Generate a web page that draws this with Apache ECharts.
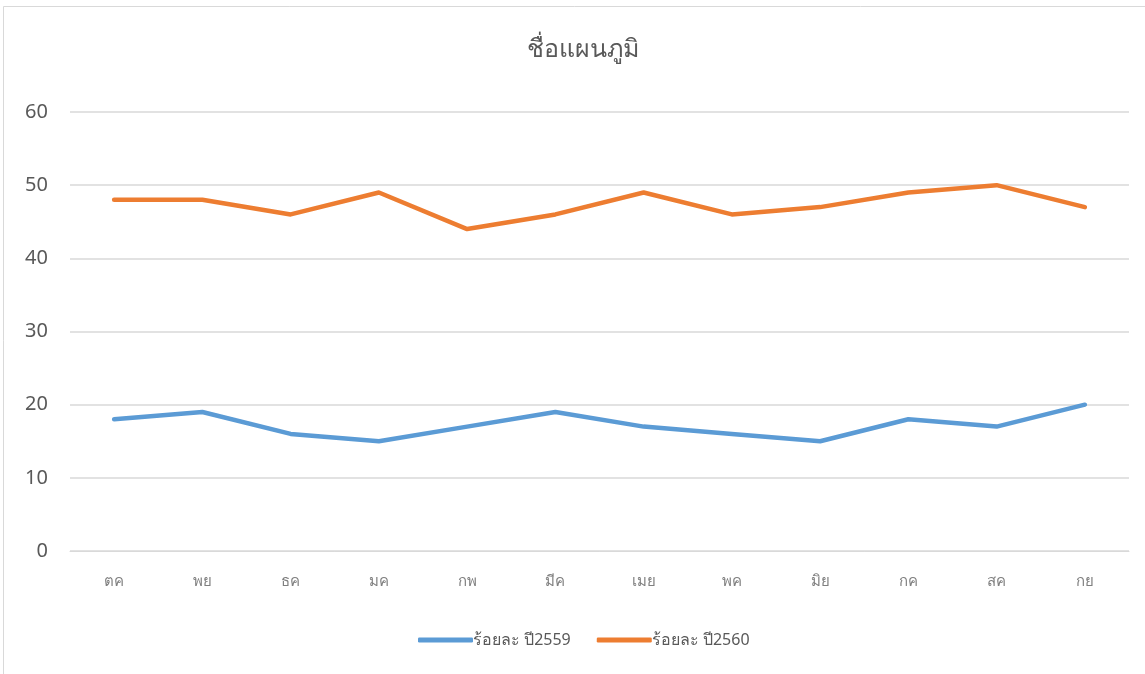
<!DOCTYPE html>
<html>
<head>
<meta charset="utf-8">
<script src="https://cdn.jsdelivr.net/npm/echarts@6/dist/echarts.min.js"></script>
<style>
html,body{margin:0;padding:0;background:#fff;}
#c{width:1145px;height:674px;}
</style>
</head>
<body>
<div id="c"></div>
<script>
const categories = ['ตค','พย','ธค','มค','กพ','มีค','เมย','พค','มิย','กค','สค','กย'];
const series2559 = [18,19,16,15,17,19,17,16,15,18,17,20];
const series2560 = [48,48,46,49,44,46,49,46,47,49,50,47];
const yTicks = [0,10,20,30,40,50,60];
const seriesNames = ['ร้อยละ ปี2559','ร้อยละ ปี2560'];

const chart = echarts.init(document.getElementById('c'), null, {renderer:'canvas'});
const font = '"Noto Sans", "DejaVu Sans", sans-serif';
chart.setOption({
  animation:false,
  backgroundColor:'#fff',
  graphic:[{
    type:'rect', shape:{x:3.5,y:6.5,width:1200,height:700},
    style:{fill:null, stroke:'#d9d9d9', lineWidth:1}, silent:true, z:-1
  }],
  title:{
    text:'ชื่อแผนภูมิ', left:522, top:32,
    textStyle:{fontFamily:font, fontSize:25, fontWeight:'normal', color:'#595959'}
  },
  legend:{
    bottom:21, left:413, itemWidth:55, itemHeight:5, itemGap:26,
    icon:'roundRect',
    textStyle:{fontFamily:font, fontSize:16, color:'#595959', padding:[0,0,0,-5]},
    data:seriesNames
  },
  grid:{left:70, right:16, top:112, bottom:123, containLabel:false},
  xAxis:{
    type:'category', data:categories, boundaryGap:true,
    axisLine:{show:true, lineStyle:{color:'#d9d9d9'}},
    axisTick:{show:false},
    axisLabel:{fontFamily:font, fontSize:15, color:'#7f7f7f', margin:23}
  },
  yAxis:{
    type:'value', min:yTicks[0], max:yTicks[yTicks.length-1], interval:10,
    axisLine:{show:false}, axisTick:{show:false},
    axisLabel:{fontFamily:font, fontSize:20, color:'#595959', margin:22},
    splitLine:{lineStyle:{color:'#d9d9d9', width:1.5}}
  },
  series:[
    {name:seriesNames[0], type:'line', data:series2559, symbol:'none',
     lineStyle:{width:4.5, color:'#5b9bd5', cap:'round', join:'round'}, itemStyle:{color:'#5b9bd5'}},
    {name:seriesNames[1], type:'line', data:series2560, symbol:'none',
     lineStyle:{width:4.5, color:'#ed7d31', cap:'round', join:'round'}, itemStyle:{color:'#ed7d31'}}
  ]
});
</script>
</body>
</html>
